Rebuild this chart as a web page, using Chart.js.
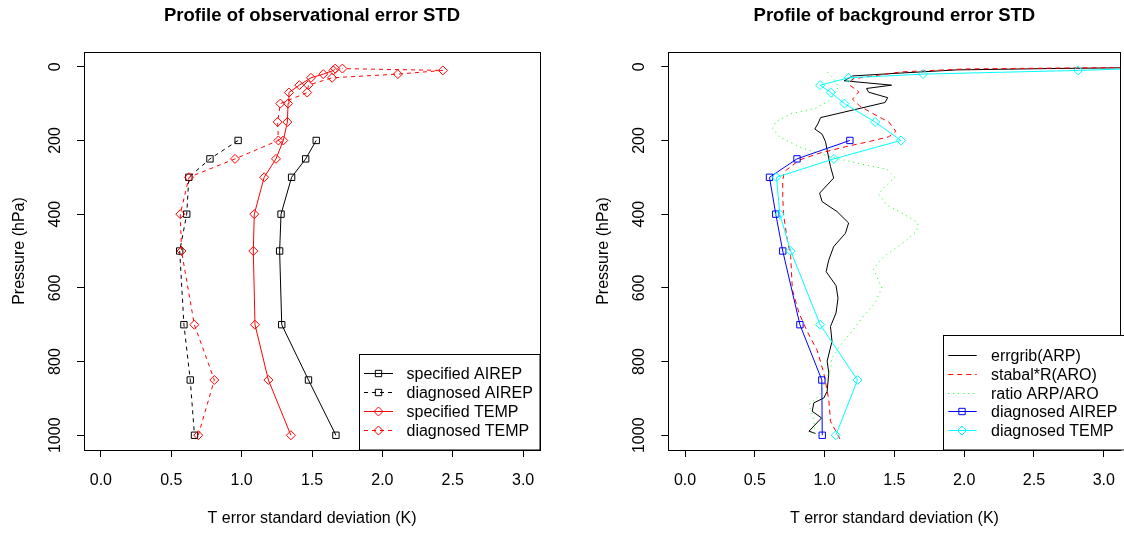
<!DOCTYPE html>
<html><head><meta charset="utf-8">
<script src="https://cdn.jsdelivr.net/npm/chart.js@4/dist/chart.umd.min.js"></script>
<style>
html,body{margin:0;padding:0;background:#fff;overflow:hidden;width:1124px;height:533px;position:relative}
#c1{position:absolute;left:0;top:0}
#c2{position:absolute;left:562px;top:0}
</style></head><body>
<canvas id="c1" width="562" height="533"></canvas>
<canvas id="c2" width="564" height="533"></canvas>
<script>
// ---------- data ----------
const pAIREP = [200, 250, 300, 400, 500, 700, 850, 1000];
const specAIREP = [1.53, 1.455, 1.355, 1.28, 1.27, 1.285, 1.475, 1.67];
const diagAIREPobs = [0.975, 0.775, 0.625, 0.61, 0.56, 0.59, 0.635, 0.665];

const pTEMP = [1000, 850, 700, 500, 400, 300, 250, 200, 150, 100, 70, 50, 30, 20, 10, 5];
const specTEMP = [1.35, 1.19, 1.095, 1.083, 1.09, 1.16, 1.244, 1.296, 1.325, 1.33, 1.336, 1.41, 1.493, 1.58, 1.652, 1.665];
const diagTEMPobs = [0.692, 0.806, 0.664, 0.573, 0.564, 0.626, 0.953, 1.261, 1.256, 1.275, 1.466, 1.474, 1.643, 2.11, 2.43, 1.716];

const diagAIREPbg = [1.181, 0.802, 0.605, 0.65, 0.70, 0.823, 0.98, 0.983];
const diagTEMPbg = [1.08, 1.236, 0.968, 0.757, 0.679, 0.655, 1.066, 1.547, 1.362, 1.142, 1.044, 0.968, 1.172, 1.705, 2.817, 3.25];

const pErrgrib = [1, 5, 8, 8.5, 17, 25, 38, 50, 59, 69, 84, 97, 138, 153, 169, 183, 203, 226, 271, 302, 343, 366, 393, 424, 452, 488, 524, 556, 594, 628, 668, 705, 745, 799, 831, 881, 899, 912, 935, 953, 989, 995];
const errgrib = [3.6, 2.6, 2.05, 1.95, 1.55, 1.2, 1.14, 1.48, 1.30, 1.315, 1.452, 1.433, 0.971, 0.954, 0.93, 0.982, 1.006, 1.018, 1.042, 1.065, 0.964, 0.982, 1.089, 1.172, 1.149, 1.065, 1.03, 1.011, 1.082, 1.096, 1.082, 1.042, 1.053, 1.018, 1.03, 1.018, 0.994, 0.923, 0.911, 0.978, 0.888, 0.935];

const pStabal = [1, 6, 14, 33, 50, 68, 88, 106, 128, 150, 175, 190, 203, 217, 235, 253, 285, 310, 350, 400, 470, 515, 605, 668, 718, 770, 831, 903, 962, 1010];
const stabal = [3.4, 2.0, 1.55, 1.2, 1.18, 1.245, 1.2, 1.25, 1.35, 1.46, 1.51, 1.46, 1.32, 1.15, 0.96, 0.82, 0.71, 0.70, 0.70, 0.705, 0.733, 0.757, 0.769, 0.816, 0.875, 0.947, 0.994, 1.03, 1.042, 1.11];

const pRatio = [15, 30, 54, 90, 113, 126, 149, 167, 190, 221, 248, 266, 278, 300, 325, 345, 375, 402, 424, 447, 474, 506, 524, 550, 600, 641, 682, 718, 750, 790, 822, 858, 894, 917, 944, 976, 995];
const ratio = [1.02, 1.06, 1.10, 1.04, 0.935, 0.77, 0.65, 0.627, 0.674, 0.84, 1.077, 1.29, 1.445, 1.504, 1.433, 1.386, 1.445, 1.576, 1.67, 1.659, 1.576, 1.457, 1.40, 1.35, 1.41, 1.362, 1.267, 1.196, 1.125, 1.053, 1.042, 1.0, 0.959, 0.888, 0.911, 0.93, 0.92];

const xTicks = [0, 0.5, 1, 1.5, 2, 2.5, 3];
const xTickLabels = ["0.0", "0.5", "1.0", "1.5", "2.0", "2.5", "3.0"];
const yTicks = [0, 200, 400, 600, 800, 1000];
const yTickLabels = ["0", "200", "400", "600", "800", "1000"];

const titleLeft = "Profile of observational error STD";
const titleRight = "Profile of background error STD";
const xTitle = "T error standard deviation (K)";
const yTitle = "Pressure (hPa)";

// ---------- setup ----------
const FONT = "'Liberation Sans', Arial, Helvetica, sans-serif";
Chart.defaults.font.family = FONT;
Chart.defaults.font.size = 16;
Chart.defaults.color = '#000';

function pts(xs, ps) { return xs.map((x, i) => ({x: x, y: ps[i]})); }
function ds(label, xs, ps, color, dash, style, idx, n) {
  return {
    label: label, data: pts(xs, ps), borderColor: color, borderWidth: 1,
    borderDash: dash, showLine: true, fill: false, tension: 0,
    pointStyle: style || 'circle', pointRadius: style ? 4.5 : 0, pointHoverRadius: style ? 4.5 : 0,
    pointBorderColor: color, pointBackgroundColor: 'rgba(0,0,0,0)', pointBorderWidth: 1,
    order: n - idx
  };
}

function scales(yWidth, yTitlePad) {
  const grid = {drawOnChartArea: false, drawTicks: true, tickLength: 7, color: '#000', lineWidth: 1};
  return {
    x: {
      type: 'linear', min: -0.12, max: 3.12,
      afterBuildTicks: s => { s.ticks = xTicks.map(v => ({value: v})); },
      ticks: {autoSkip: false, maxRotation: 0, minRotation: 0, padding: 14, color: '#000',
        callback: v => xTickLabels[xTicks.indexOf(v)]},
      grid: grid, border: {display: false},
      title: {display: true, text: xTitle, color: '#000', font: {size: 16}, padding: {top: 0, bottom: 4.4}},
      afterFit: s => { s.height = 83; s.paddingLeft = 0; s.paddingRight = 0; }
    },
    y: {
      type: 'linear', reverse: true, min: -40, max: 1040,
      afterBuildTicks: s => { s.ticks = yTicks.map(v => ({value: v})); },
      ticks: {autoSkip: false, minRotation: 90, maxRotation: 90, crossAlign: 'center', padding: 4, color: '#000',
        callback: v => yTickLabels[yTicks.indexOf(v)]},
      grid: grid, border: {display: false},
      title: {display: true, text: yTitle, color: '#000', font: {size: 16}, padding: {top: yTitlePad, bottom: 0}},
      afterFit: s => { s.width = yWidth; s.paddingTop = 0; s.paddingBottom = 0; }
    }
  };
}

function drawMarker(ctx, style, x, y, r) {
  ctx.beginPath();
  if (style === 'rect') {
    const h = r * Math.SQRT1_2;
    ctx.rect(x - h, y - h, 2 * h, 2 * h);
  } else if (style === 'rectRot') {
    ctx.moveTo(x - r, y); ctx.lineTo(x, y - r); ctx.lineTo(x + r, y); ctx.lineTo(x, y + r); ctx.closePath();
  }
  ctx.stroke();
}

const framePlugin = {
  id: 'frame',
  afterDraw(chart, args, opts) {
    const ctx = chart.ctx, a = chart.chartArea;
    ctx.save();
    ctx.setLineDash([]);
    ctx.strokeStyle = '#000'; ctx.lineWidth = 1;
    ctx.strokeRect(Math.round(a.left) + 0.5, Math.round(a.top) + 0.5, Math.round(a.right - a.left), Math.round(a.bottom - a.top));
    // title
    ctx.fillStyle = '#000';
    ctx.font = 'bold 18.5px ' + FONT;
    ctx.textAlign = 'center'; ctx.textBaseline = 'alphabetic';
    ctx.fillText(opts.title, (a.left + a.right) / 2, opts.titleY);
    // legend
    const lg = opts.legend;
    ctx.fillStyle = '#fff';
    ctx.fillRect(lg.box[0], lg.box[1], lg.box[2] - lg.box[0], lg.box[3] - lg.box[1]);
    ctx.strokeStyle = '#000';
    ctx.strokeRect(lg.box[0], lg.box[1], lg.box[2] - lg.box[0], lg.box[3] - lg.box[1]);
    chart.data.datasets.forEach((d, i) => {
      const y = Math.round(lg.y0 + i * lg.dy) + 0.5;
      ctx.strokeStyle = d.borderColor; ctx.lineWidth = 1;
      ctx.setLineDash(d.borderDash || []);
      ctx.beginPath(); ctx.moveTo(lg.lx0, y); ctx.lineTo(lg.lx1, y); ctx.stroke();
      ctx.setLineDash([]);
      if (d.pointRadius > 0) {
        ctx.fillStyle = '#fff';
        drawMarker(ctx, d.pointStyle, lg.mx, y, d.pointRadius);
      }
      ctx.fillStyle = '#000';
      ctx.font = '16px ' + FONT;
      ctx.textAlign = 'left'; ctx.textBaseline = 'alphabetic';
      ctx.fillText(d.label, lg.tx, y + 5.7);
    });
    ctx.restore();
  }
};

function makeChart(id, datasets, yWidth, yTitlePad, padRight, frameOpts) {
  return new Chart(document.getElementById(id), {
    type: 'scatter',
    data: {datasets: datasets},
    options: {
      responsive: false, animation: false, devicePixelRatio: 1, events: [],
      layout: {padding: {left: 0, top: 52, right: padRight, bottom: 0}},
      plugins: {legend: {display: false}, title: {display: false}, tooltip: {enabled: false}, frame: frameOpts},
      scales: scales(yWidth, yTitlePad)
    },
    plugins: [framePlugin]
  });
}

// left panel
const leftSets = [
  ds('specified AIREP', specAIREP, pAIREP, '#000000', [], 'rect', 0, 4),
  ds('diagnosed AIREP', diagAIREPobs, pAIREP, '#000000', [4, 4], 'rect', 1, 4),
  ds('specified TEMP', specTEMP, pTEMP, '#FF0000', [], 'rectRot', 2, 4),
  ds('diagnosed TEMP', diagTEMPobs, pTEMP, '#FF0000', [4, 4], 'rectRot', 3, 4)
];
makeChart('c1', leftSets, 84, 10.4, 22, {
  title: titleLeft, titleY: 21,
  legend: {box: [359.5, 354.5, 540, 450], y0: 373.3, dy: 18.9, lx0: 364, lx1: 393, mx: 378.5, tx: 406.5}
});

// right panel
const rightSets = [
  ds('errgrib(ARP)', errgrib, pErrgrib, '#000000', [], null, 0, 5),
  ds('stabal*R(ARO)', stabal, pStabal, '#FF0000', [5, 4], null, 1, 5),
  ds('ratio ARP/ARO', ratio, pRatio, '#00FF00', [1, 4], null, 2, 5),
  ds('diagnosed AIREP', diagAIREPbg, pAIREP, '#0000FF', [], 'rect', 3, 5),
  ds('diagnosed TEMP', diagTEMPbg, pTEMP, '#00FFFF', [], 'rectRot', 4, 5)
];
makeChart('c2', rightSets, 106.3, 32.4, 1.8, {
  title: titleRight, titleY: 21,
  legend: {box: [381.5, 335.5, 566, 450], y0: 355, dy: 18.8, lx0: 386.3, lx1: 414.7, mx: 400, tx: 429}
});
</script>
</body></html>
